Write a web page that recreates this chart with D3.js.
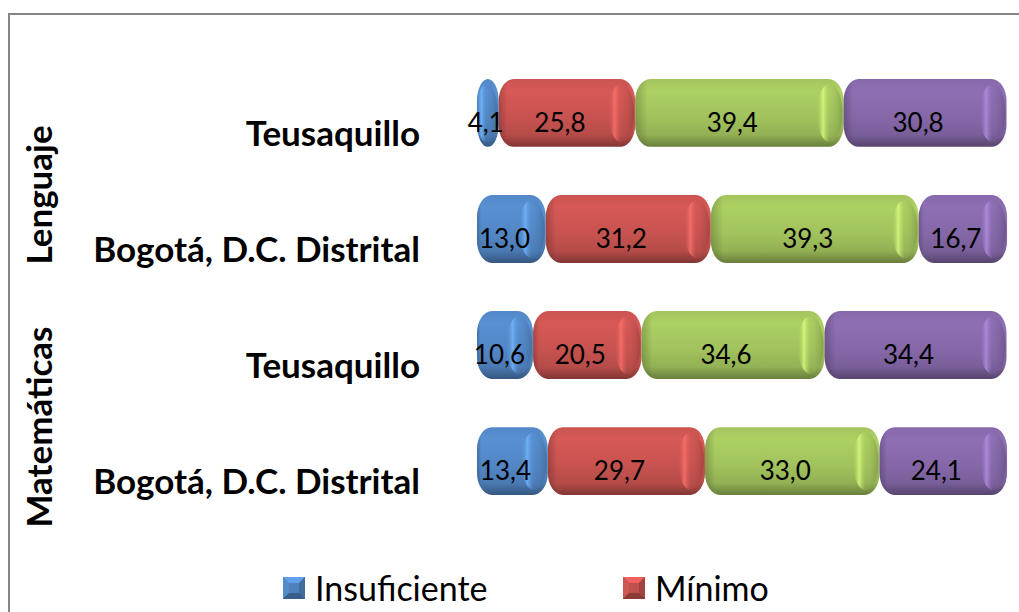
<!DOCTYPE html>
<html>
<head>
<meta charset="utf-8">
<script src="https://cdn.jsdelivr.net/npm/d3@7"></script>
<style>
  body { margin: 0; background: #fff; overflow: hidden; }
  svg text { font-family: Lato, "Open Sans", sans-serif; }
</style>
</head>
<body>
<svg id="chart" width="1019" height="612"></svg>
<script>

// data
var areas = ["Lenguaje", "Lenguaje", "Matemáticas", "Matemáticas"];
var places = ["Teusaquillo", "Bogotá, D.C. Distrital", "Teusaquillo", "Bogotá, D.C. Distrital"];
var levels = ["Insuficiente", "Mínimo", "Satisfactorio", "Avanzado"];
var insuficiente = [4.1, 13.0, 10.6, 13.4];
var minimo = [25.8, 31.2, 20.5, 29.7];
var satisfactorio = [39.4, 39.3, 34.6, 33.0];
var avanzado = [30.8, 16.7, 34.4, 24.1];
var colors = ["#4F81BD", "#C0504D", "#9BBB59", "#8064A2"];

var rows = places.map(function (p, i) {
  return {
    id: i, area: areas[i], place: p,
    Insuficiente: insuficiente[i], "Mínimo": minimo[i],
    Satisfactorio: satisfactorio[i], Avanzado: avanzado[i]
  };
});

var svg = d3.select('#chart');
var defs = svg.append('defs');

// frame of the chart area, runs out of the window on the right and bottom
svg.append('rect')
  .attr('x', 9).attr('y', 14)
  .attr('width', 1100).attr('height', 700)
  .attr('fill', 'none')
  .attr('stroke', '#868686')
  .attr('stroke-width', 2);

var x = d3.scaleLinear().domain([0, 100]).range([477, 1006]);
var y = d3.scaleBand()
  .domain(rows.map(function (d) { return d.id; }))
  .range([54.9, 519.1])
  .paddingInner(0.415)
  .paddingOuter(0.2075);

// gradients for the cylinder look
colors.forEach(function (c, i) {
  var base = d3.color(c);
  var g = defs.append('linearGradient')
    .attr('id', 'body' + i)
    .attr('x1', 0).attr('y1', 0).attr('x2', 0).attr('y2', 1);
  g.append('stop').attr('offset', '0%').attr('stop-color', base.brighter(0.15));
  g.append('stop').attr('offset', '18%').attr('stop-color', base.brighter(0.3));
  g.append('stop').attr('offset', '55%').attr('stop-color', base.brighter(0.12));
  g.append('stop').attr('offset', '82%').attr('stop-color', base.darker(0.15));
  g.append('stop').attr('offset', '100%').attr('stop-color', base.darker(1.1));

  var cap = defs.append('linearGradient')
    .attr('id', 'cap' + i)
    .attr('x1', 0).attr('y1', 0).attr('x2', 1).attr('y2', 0);
  cap.append('stop').attr('offset', '0%').attr('stop-color', base.brighter(0.2)).attr('stop-opacity', 0);
  cap.append('stop').attr('offset', '25%').attr('stop-color', base.brighter(1.0)).attr('stop-opacity', 0.8);
  cap.append('stop').attr('offset', '50%').attr('stop-color', base.brighter(0.2)).attr('stop-opacity', 0.2);
  cap.append('stop').attr('offset', '100%').attr('stop-color', base.darker(0.8)).attr('stop-opacity', 0.6);
});

var ends = defs.append('linearGradient')
  .attr('id', 'ends')
  .attr('x1', 0).attr('y1', 0).attr('x2', 1).attr('y2', 0);
ends.append('stop').attr('offset', '0%').attr('stop-color', '#000').attr('stop-opacity', 0.2);
ends.append('stop').attr('offset', '6%').attr('stop-color', '#000').attr('stop-opacity', 0);
ends.append('stop').attr('offset', '100%').attr('stop-color', '#000').attr('stop-opacity', 0);

var stack = d3.stack().keys(levels);
var series = stack(rows);
var bh = y.bandwidth();
var fmt = function (v) { return d3.format('.1f')(v).replace('.', ','); };

var bars = svg.append('g');

series.forEach(function (s, si) {
  s.forEach(function (d, ri) {
    var x0 = x(d[0]), x1 = x(d[1]);
    var w = x1 - x0;
    var top = y(ri);
    var rx = Math.min(15, w / 2);
    var seg = bars.append('g');

    seg.append('rect')
      .attr('x', x0).attr('y', top)
      .attr('width', w).attr('height', bh)
      .attr('rx', rx).attr('ry', 22)
      .attr('fill', 'url(#body' + si + ')');

    seg.append('rect')
      .attr('x', x0).attr('y', top)
      .attr('width', w).attr('height', bh)
      .attr('rx', rx).attr('ry', 22)
      .attr('fill', 'url(#ends)');

    // right end cap of the cylinder (soft rim highlight + shade)
    var cw = Math.min(13, w / 2);
    seg.append('ellipse')
      .attr('cx', x1 - cw - 1).attr('cy', top + bh / 2)
      .attr('rx', cw).attr('ry', bh / 2 - 5)
      .attr('fill', 'url(#cap' + si + ')');
  });
});

// value labels, centred on the front face (cap depth left out)
series.forEach(function (s, si) {
  svg.append('g').selectAll('text')
    .data(s)
    .enter()
    .append('text')
    .attr('x', function (d) {
      var w = x(d[1]) - x(d[0]);
      return (x(d[0]) + x(d[1])) / 2 - Math.min(7, w * 0.1);
    })
    .attr('y', function (d, i) { return y(i) + bh / 2 + 19; })
    .attr('text-anchor', 'middle')
    .attr('font-size', 26)
    .attr('fill', '#000')
    .text(function (d) { return fmt(d[1] - d[0]); });
});

// category labels
svg.append('g').selectAll('text')
  .data(rows)
  .enter()
  .append('text')
  .attr('x', 420)
  .attr('y', function (d) { return y(d.id) + bh / 2 + 33; })
  .attr('text-anchor', 'end')
  .attr('font-size', 35)
  .attr('font-weight', 'bold')
  .text(function (d) { return d.place; });

// group labels, rotated
var groupNames = ["Lenguaje", "Matemáticas"];
groupNames.forEach(function (name) {
  var ids = rows.filter(function (r) { return r.area === name; }).map(function (r) { return r.id; });
  var cy = d3.mean(ids, function (id) { return y(id) + bh / 2; }) + 24;
  svg.append('text')
    .attr('transform', 'translate(52,' + cy + ') rotate(-90)')
    .attr('text-anchor', 'middle')
    .attr('font-size', 35)
    .attr('font-weight', 'bold')
    .text(name);
});

// legend, two per row (second row falls below the window)
var legend = svg.append('g');
levels.forEach(function (name, i) {
  var lx = 283 + (i % 2) * 340;
  var ly = 577 + Math.floor(i / 2) * 44;
  var base = d3.color(colors[i]);
  var s = 22, k = 6;
  var item = legend.append('g').attr('transform', 'translate(' + lx + ',' + ly + ')');
  item.append('rect').attr('width', s).attr('height', s).attr('fill', base.darker(0.3));
  item.append('path').attr('d', 'M0,0L' + s + ',0L' + (s - k) + ',' + k + 'L' + k + ',' + k + 'Z').attr('fill', base.brighter(0.6));
  item.append('path').attr('d', 'M0,0L' + k + ',' + k + 'L' + k + ',' + (s - k) + 'L0,' + s + 'Z').attr('fill', base.brighter(0.2));
  item.append('path').attr('d', 'M' + s + ',0L' + s + ',' + s + 'L' + (s - k) + ',' + (s - k) + 'L' + (s - k) + ',' + k + 'Z').attr('fill', base.darker(0.5));
  item.append('path').attr('d', 'M0,' + s + 'L' + s + ',' + s + 'L' + (s - k) + ',' + (s - k) + 'L' + k + ',' + (s - k) + 'Z').attr('fill', base.darker(0.9));
  item.append('rect').attr('x', k).attr('y', k).attr('width', s - 2 * k).attr('height', s - 2 * k).attr('fill', base);
  item.append('text')
    .attr('x', 32).attr('y', 24)
    .attr('font-size', 34)
    .text(name);
});

</script>
</body>
</html>
